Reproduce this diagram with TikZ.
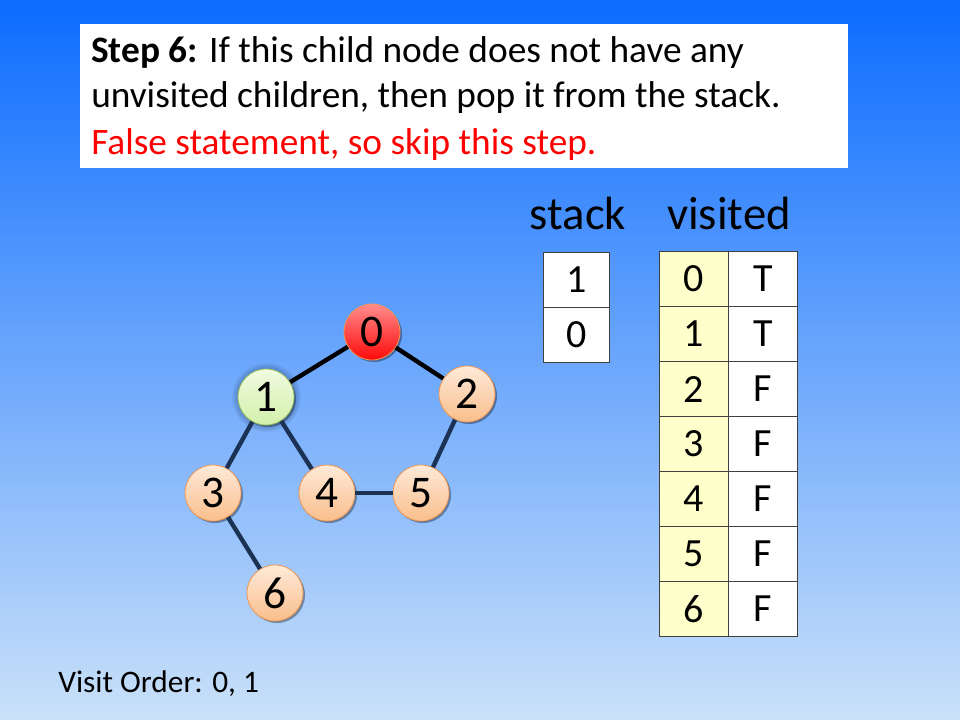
\documentclass[tikz,border=0pt]{standalone}
\usepackage{fontspec}
\setmainfont{Carlito}
\usetikzlibrary{shadows}
\definecolor{bgtop}{RGB}{12,108,255}
\definecolor{bgbot}{RGB}{202,225,249}
\definecolor{navy}{RGB}{28,50,85}
\definecolor{orbord}{RGB}{240,150,80}
\definecolor{ortop}{RGB}{254,234,216}
\definecolor{orbot}{RGB}{250,190,140}
\definecolor{redtop}{RGB}{255,140,140}
\definecolor{redbot}{RGB}{255,10,10}
\definecolor{grtop}{RGB}{240,250,225}
\definecolor{grbot}{RGB}{212,240,170}
\definecolor{grbord}{RGB}{150,190,90}
\definecolor{yel}{RGB}{255,255,204}
\tikzset{
  gnode/.style={circle, minimum size=56*0.75pt, inner sep=0pt, draw=orbord, line width=0.6pt,
     top color=ortop, bottom color=orbot, font=\fontsize{34}{34}\selectfont,
     drop shadow={shadow xshift=1.5pt, shadow yshift=-1.5pt, opacity=0.35, fill=black}},
  rednode/.style={gnode, top color=redtop, bottom color=redbot},
  greennode/.style={gnode, top color=grtop, bottom color=grbot, draw=grbord,
     circular glow={fill=navy, opacity=0.25}},
  blackedge/.style={line width=3.3pt, black},
  navyedge/.style={line width=3.3pt, navy},
  cell/.style={draw=black!75, line width=0.8pt, fill=white, inner sep=0pt,
     font=\fontsize{30}{30}\selectfont},
  stackcell/.style={cell, minimum width=66*0.75pt, minimum height=55*0.75pt},
  idxcell/.style={cell, fill=yel, minimum width=69*0.75pt, minimum height=55*0.75pt},
  valcell/.style={cell, minimum width=69*0.75pt, minimum height=55*0.75pt},
  title/.style={font=\fontsize{35}{36}\selectfont, anchor=base},
  line/.style={anchor=base west, inner sep=0pt, font=\fontsize{28}{34}\selectfont}
}
\begin{document}
\begin{tikzpicture}[x=0.75pt, y=0.75pt]
\useasboundingbox (0,0) rectangle (960,720);
\shade[top color=bgtop, bottom color=bgbot] (0,0) rectangle (960,720);
% text box
\node[fill=white, minimum width=768*0.75pt, minimum height=144*0.75pt, inner sep=0pt, anchor=north west] (box) at (80,696) {};
\node[line] (l1) at (91,657) {\textbf{Step 6:} If this child node does not have any};
\node[line] (l2) at (91,612) {unvisited children, then pop it from the stack.};
\node[line, text=red] (l3) at (91,565) {False statement, so skip this step.};
% graph
\node[rednode] (n0) at (372,388) {0};
\node[greennode] (n1) at (266,323) {1};
\node[gnode] (n2) at (467,326) {2};
\node[gnode] (n3) at (213,227) {3};
\node[gnode] (n4) at (327,227) {4};
\node[gnode] (n5) at (421,227) {5};
\node[gnode] (n6) at (275,127) {6};
\draw[blackedge] (n0) -- (n1);
\draw[blackedge] (n0) -- (n2);
\draw[navyedge] (n1) -- (n3);
\draw[navyedge] (n1) -- (n4);
\draw[navyedge] (n2) -- (n5);
\draw[navyedge] (n4) -- (n5);
\draw[navyedge] (n3) -- (n6);
% stack
\node[title] (stacklbl) at (578,490) {stack};
\node[title] (vislbl) at (729,490) {visited};
\node[stackcell, anchor=north west] (s1) at (543,468) {1};
\node[stackcell, anchor=north west] (s0) at (543,413) {0};
% visited
\foreach \i/\v [count=\k from 0] in {0/T,1/T,2/F,3/F,4/F,5/F,6/F}{
  \node[idxcell, anchor=north west] (i\i) at (659,469-55*\k) {\i};
  \node[valcell, anchor=north west] (v\i) at (728,469-55*\k) {\v};
}
\node[anchor=base west, inner sep=0pt, font=\fontsize{23.5}{24}\selectfont] (order) at (58,27) {Visit Order: 0, 1};
\end{tikzpicture}
\end{document}
